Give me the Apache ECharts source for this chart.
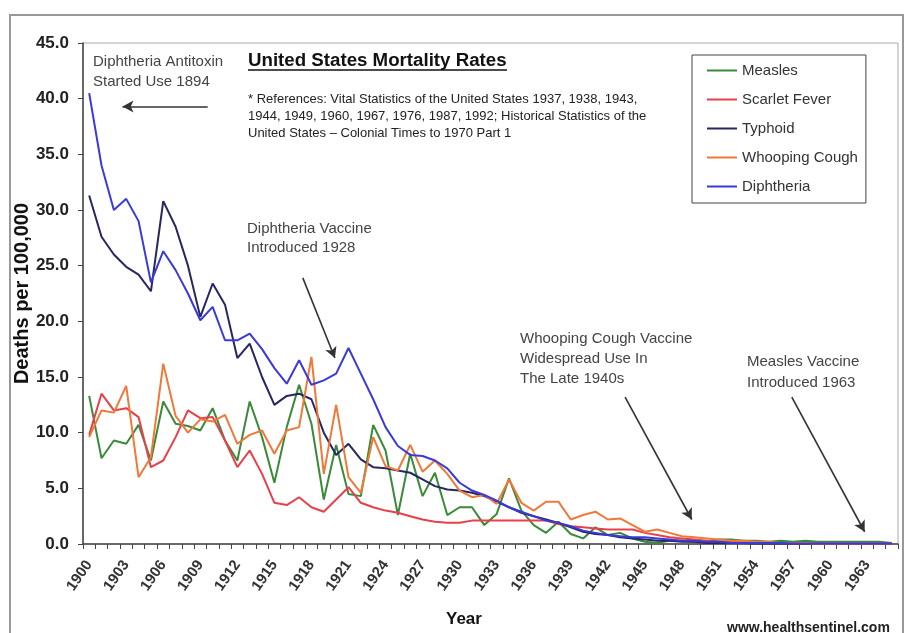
<!DOCTYPE html>
<html><head><meta charset="utf-8">
<script src="https://cdn.jsdelivr.net/npm/echarts@6/dist/echarts.min.js"></script>
<style>html,body{margin:0;padding:0;background:#fff}#c{width:904px;height:633px}</style>
</head><body><div id="c"></div>
<script>
const years = ['1900','1901','1902','1903','1904','1905','1906','1907','1908','1909',
'1910','1911','1912','1913','1914','1915','1916','1917','1918','1919',
'1920','1921','1922','1923','1924','1925','1926','1927','1928','1929',
'1930','1931','1932','1933','1934','1935','1936','1937','1938','1939',
'1940','1941','1942','1943','1944','1945','1946','1947','1948','1949',
'1950','1951','1952','1953','1954','1955','1956','1957','1958','1959',
'1960','1961','1962','1963','1964','1965'];

const measles = [13.3,7.7,9.3,9.0,10.7,7.5,12.8,10.8,10.6,10.2,
12.2,9.3,7.5,12.8,9.6,5.5,10.5,14.3,10.8,4.0,
8.9,4.5,4.3,10.7,8.4,2.6,8.1,4.3,6.4,2.6,
3.3,3.3,1.7,2.7,5.9,3.0,1.7,1.0,2.0,0.9,
0.5,1.5,0.8,1.0,0.5,0.2,0.1,0.3,0.3,0.2,
0.2,0.4,0.4,0.3,0.3,0.2,0.3,0.2,0.3,0.2,
0.2,0.2,0.2,0.2,0.2,0.1];

const scarletFever = [9.8,13.5,12.0,12.2,11.4,6.9,7.5,9.6,12.0,11.3,
11.4,9.3,6.9,8.4,6.3,3.7,3.5,4.2,3.3,2.9,
4.0,5.1,3.7,3.3,3.0,2.8,2.5,2.2,2.0,1.9,
1.9,2.1,2.1,2.1,2.1,2.1,2.1,2.1,1.8,1.6,
1.5,1.4,1.3,1.3,1.3,1.0,0.8,0.6,0.5,0.4,
0.3,0.2,0.2,0.1,0.1,0.1,0.05,0.05,0.05,0.05,
0.05,0.05,0.05,0.05,0.05,0.05];

const typhoid = [31.3,27.6,26.0,24.9,24.2,22.7,30.8,28.5,25.0,20.4,
23.4,21.5,16.7,18.0,15.0,12.5,13.3,13.5,13.0,10.0,
8.0,9.0,7.6,6.9,6.8,6.6,6.4,5.8,5.2,4.9,
4.8,4.6,4.3,3.8,3.3,2.8,2.5,2.2,1.9,1.5,
1.1,0.9,0.8,0.6,0.5,0.4,0.3,0.3,0.2,0.2,
0.1,0.1,0.1,0.1,0.05,0.05,0.05,0.05,0.05,0.05,
0.05,0.05,0.05,0.05,0.05,0.05];

const whoopingCough = [9.6,12.0,11.8,14.2,6.0,7.8,16.2,11.5,10.0,11.2,
11.0,11.6,9.0,9.8,10.2,8.1,10.2,10.5,16.8,6.3,
12.5,6.0,4.6,9.6,7.0,6.6,8.9,6.5,7.5,6.3,
4.8,4.2,4.4,3.6,5.8,3.7,3.0,3.8,3.8,2.2,
2.6,2.9,2.2,2.3,1.7,1.1,1.3,1.0,0.7,0.6,
0.5,0.4,0.3,0.3,0.2,0.2,0.1,0.1,0.1,0.05,
0.05,0.05,0.05,0.05,0.05,0.05];

const diphtheria = [40.5,34.0,30.0,31.0,29.0,23.5,26.3,24.6,22.5,20.1,
21.3,18.3,18.3,18.9,17.5,15.8,14.4,16.5,14.3,14.7,
15.3,17.6,15.3,13.0,10.5,8.8,8.0,7.9,7.5,6.8,
5.5,4.8,4.4,3.9,3.3,2.9,2.5,2.1,1.9,1.6,
1.2,1.0,0.8,0.7,0.6,0.6,0.5,0.4,0.3,0.3,
0.2,0.2,0.1,0.1,0.1,0.1,0.1,0.05,0.05,0.05,
0.05,0.05,0.05,0.05,0.05,0.05];

const seriesNames = ['Measles','Scarlet Fever','Typhoid','Whooping Cough','Diphtheria'];
const seriesColors = ['#3a8a3a','#e8404a','#262662','#f07838','#3a3ad8'];
const seriesData = [measles, scarletFever, typhoid, whoopingCough, diphtheria];

// annotation arrows in data space: [year, value] -> [year, value]
const arrowFrom = [[1909.6,39.3],[1917.3,23.9],[1943.4,13.2],[1956.9,13.2]];
const arrowTo   = [[1902.7,39.3],[1919.9,16.7],[1948.8,2.2],[1962.8,1.1]];

const F = '"Liberation Sans", Arial, sans-serif';
const chart = echarts.init(document.getElementById('c'));

const lines = seriesNames.map((n,i)=>({
  name:n, type:'line', data:seriesData[i], symbol:'none',
  lineStyle:{width:2, color:seriesColors[i]}, itemStyle:{color:seriesColors[i]},
  z: 3
}));
lines.push({
  name:'annot', type:'line', xAxisIndex:1, data:[], symbol:'none',
  markLine:{
    silent:true, animation:false, symbol:['none','arrow'], symbolSize:[9,11],
    lineStyle:{color:'#333', width:1.6, type:'solid'}, label:{show:false},
    emphasis:{disabled:true},
    data: arrowFrom.map((a,i)=>[{coord:a},{coord:arrowTo[i]}])
  }
});

chart.setOption({
  animation:false,
  backgroundColor:'#fff',
  grid:{left:83, right:6, top:43, bottom:89, show:true, borderColor:'#aaa', borderWidth:1, outerBoundsMode:'none', containLabel:false},
  xAxis:[{
    type:'category', data:years, boundaryGap:true,
    axisLine:{lineStyle:{color:'#444', width:1.5}},
    axisTick:{show:true, interval:0, length:5, lineStyle:{color:'#444'}},
    axisLabel:{interval:2, rotate:55, fontFamily:F, fontSize:15, fontWeight:'bold', color:'#333', margin:18}
  },{
    type:'value', min:1899.5, max:1965.5, show:false
  }],
  yAxis:{
    type:'value', min:0, max:45, interval:5,
    axisLine:{show:true, lineStyle:{color:'#444', width:1.5}},
    axisTick:{show:true, length:5, lineStyle:{color:'#444'}},
    splitLine:{show:false},
    axisLabel:{formatter:v=>v.toFixed(1), fontFamily:F, fontSize:17, fontWeight:'bold', color:'#222', margin:14},
    name:'Deaths per 100,000', nameLocation:'middle', nameGap:51, nameRotate:90, nameMoveOverlap:false,
    nameTextStyle:{fontFamily:F, fontSize:20, fontWeight:'bold', color:'#111'}
  },
  legend:{
    data:seriesNames, orient:'vertical', left:692, top:55,
    icon:'rect', itemWidth:30, itemHeight:2, itemGap:14,
    padding:[8,8,9,15], borderColor:'#444', borderWidth:1, backgroundColor:'#fff',
    textStyle:{fontFamily:F, fontSize:15, color:'#333'}
  },
  graphic:[
    {type:'rect', shape:{x:10,y:15,width:893,height:640}, style:{fill:'none', stroke:'#999', lineWidth:2}, silent:true},
    {type:'text', left:93, top:52, style:{text:'Diphtheria Antitoxin\nStarted Use 1894', font:'15px '+F, fill:'#444', lineHeight:20}},
    {type:'text', left:248, top:51, style:{text:'United States Mortality Rates', font:'bold 18.7px '+F, fill:'#111'}},
    {type:'line', shape:{x1:248,y1:70,x2:507,y2:70}, style:{stroke:'#111', lineWidth:1.5}},
    {type:'text', left:248, top:91, style:{text:'* References: Vital Statistics of the United States 1937, 1938, 1943,\n1944, 1949, 1960, 1967, 1976, 1987, 1992; Historical Statistics of the\nUnited States \u2013 Colonial Times to 1970 Part 1', font:'13px '+F, fill:'#222', lineHeight:17}},
    {type:'text', left:247, top:219, style:{text:'Diphtheria Vaccine\nIntroduced 1928', font:'15px '+F, fill:'#444', lineHeight:19}},
    {type:'text', left:520, top:329, style:{text:'Whooping Cough Vaccine\nWidespread Use In\nThe Late 1940s', font:'15px '+F, fill:'#444', lineHeight:20}},
    {type:'text', left:747, top:351, style:{text:'Measles Vaccine\nIntroduced 1963', font:'15px '+F, fill:'#444', lineHeight:21}},
    {type:'text', left:446, top:611, style:{text:'Year', font:'bold 17px '+F, fill:'#111'}},
    {type:'text', left:727, top:621, style:{text:'www.healthsentinel.com', font:'bold 14px '+F, fill:'#222'}}
  ],
  series: lines
});
</script></body></html>
